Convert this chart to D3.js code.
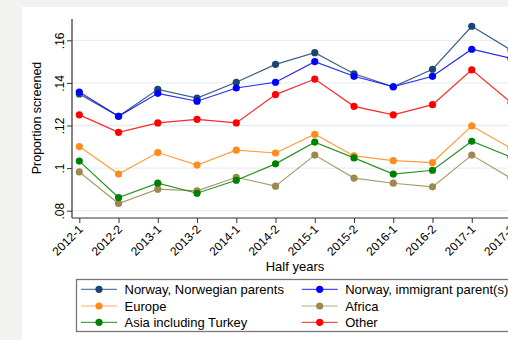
<!DOCTYPE html>
<html><head><meta charset="utf-8">
<script src="https://cdn.jsdelivr.net/npm/d3@7"></script>
<style>body{margin:0;background:#f2f2f0;}svg{display:block;font-family:"Liberation Sans",Arial,sans-serif;}</style>
</head><body><svg id="c" width="508" height="340"></svg>
<script>
const periods = ["2012-1","2012-2","2013-1","2013-2","2014-1","2014-2","2015-1","2015-2","2016-1","2016-2","2017-1","2017-2"];
const norwegian = [.1348,.1243,.1370,.1329,.1403,.1487,.1542,.1443,.1382,.1464,.1666,.1554];
const immigrantParents = [.1357,.1243,.1351,.1314,.1376,.1403,.1500,.1431,.1382,.1431,.1558,.1515];
const europe = [.1101,.0972,.1073,.1014,.1084,.1071,.1159,.1057,.1035,.1026,.1198,.1093];
const africa = [.0982,.0834,.0901,.0893,.0957,.0915,.1061,.0953,.0929,.0912,.1061,.0952];
const asia = [.1033,.0862,.0929,.0882,.0943,.1020,.1122,.1048,.0972,.0990,.1126,.1052];
const other = [.1250,.1168,.1212,.1229,.1212,.1345,.1418,.1290,.1250,.1298,.1461,.1308];
const yTicks = [.08,.1,.12,.14,.16];
const yTickLabels = [".08",".1",".12",".14",".16"];
const seriesNames = ["Norway, Norwegian parents","Norway, immigrant parent(s)","Europe","Africa","Asia including Turkey","Other"];
const seriesColors = ["#1a476f","#0000ff","#ff8c1a","#9c8850","#008000","#ff0000"];
const seriesData = [norwegian, immigrantParents, europe, africa, asia, other];

const svg = d3.select("#c");
svg.append("rect").attr("x",22).attr("y",7).attr("width",490).attr("height",340).attr("fill","#fff");

const x = d3.scalePoint().domain(periods).range([79.3, 511]);
const y = d3.scaleLinear().domain([.08,.16]).range([210.7, 40.3]);

// gridlines
svg.append("g").selectAll("line").data(yTicks).join("line")
  .attr("x1",72).attr("x2",520).attr("y1",d=>y(d)).attr("y2",d=>y(d))
  .attr("stroke","#e6eff0").attr("stroke-width",1.3);

// y axis
const yAxis = svg.append("g").attr("transform","translate(72,0)")
  .call(d3.axisLeft(y).tickValues(yTicks).tickFormat((d,i)=>yTickLabels[i]).tickSize(5).tickSizeOuter(0));
yAxis.select(".domain").remove();
yAxis.append("line").attr("x1",0).attr("x2",0).attr("y1",19).attr("y2",218).attr("stroke","#333").attr("stroke-width",1.2);
yAxis.selectAll(".tick line").attr("stroke","#333");
yAxis.selectAll(".tick text").attr("font-size",12).attr("fill","#000").attr("font-family","Liberation Sans, Arial, sans-serif")
  .attr("transform","rotate(-90)").attr("x",0).attr("y",-8).attr("dy","0").attr("text-anchor","middle");

// x axis
const xAxis = svg.append("g").attr("transform","translate(0,218)")
  .call(d3.axisBottom(x).tickSize(5).tickSizeOuter(0));
xAxis.select(".domain").remove();
xAxis.append("line").attr("x1",72).attr("x2",520).attr("stroke","#333").attr("stroke-width",1.2);
xAxis.selectAll(".tick line").attr("stroke","#333");
xAxis.selectAll(".tick text").attr("font-size",12).attr("fill","#000").attr("font-family","Liberation Sans, Arial, sans-serif")
  .attr("text-anchor","end").attr("dy","0").attr("y",0)
  .attr("transform","translate(4,12) rotate(-45)");

// axis titles
svg.append("text").attr("transform","translate(41,118) rotate(-90)").attr("text-anchor","middle")
  .attr("font-size",12.5).text("Proportion screened");
svg.append("text").attr("x",295).attr("y",271).attr("text-anchor","middle").attr("font-size",13).text("Half years");

// series
const line = d3.line().x((d,i)=>x(periods[i])).y(d=>y(d));
seriesData.forEach((vals,k)=>{
  const g = svg.append("g");
  g.append("path").attr("d",line(vals)).attr("fill","none").attr("stroke",seriesColors[k]).attr("stroke-width",1.2).attr("stroke-opacity",0.85);
  g.selectAll("circle").data(vals).join("circle").attr("cx",(d,i)=>x(periods[i])).attr("cy",d=>y(d)).attr("r",3.6).attr("fill",seriesColors[k]);
});

// legend
svg.append("rect").attr("x",76.5).attr("y",279.5).attr("width",460).attr("height",52).attr("fill","#fff").attr("stroke","#777").attr("stroke-width",1.3);
const legX = [81, 301.7], rowY = [289.3, 306, 322.3];
seriesNames.forEach((name,k)=>{
  const cx = legX[k%2], cy = rowY[Math.floor(k/2)];
  const g = svg.append("g");
  g.append("line").attr("x1",cx).attr("x2",cx+36).attr("y1",cy).attr("y2",cy).attr("stroke",seriesColors[k]).attr("stroke-width",1.2).attr("stroke-opacity",0.7);
  g.append("circle").attr("cx",cx+18).attr("cy",cy).attr("r",3.6).attr("fill",seriesColors[k]);
  g.append("text").attr("x",cx+43.5).attr("y",cy+4.6).attr("font-size",13).text(name);
});
</script></body></html>
